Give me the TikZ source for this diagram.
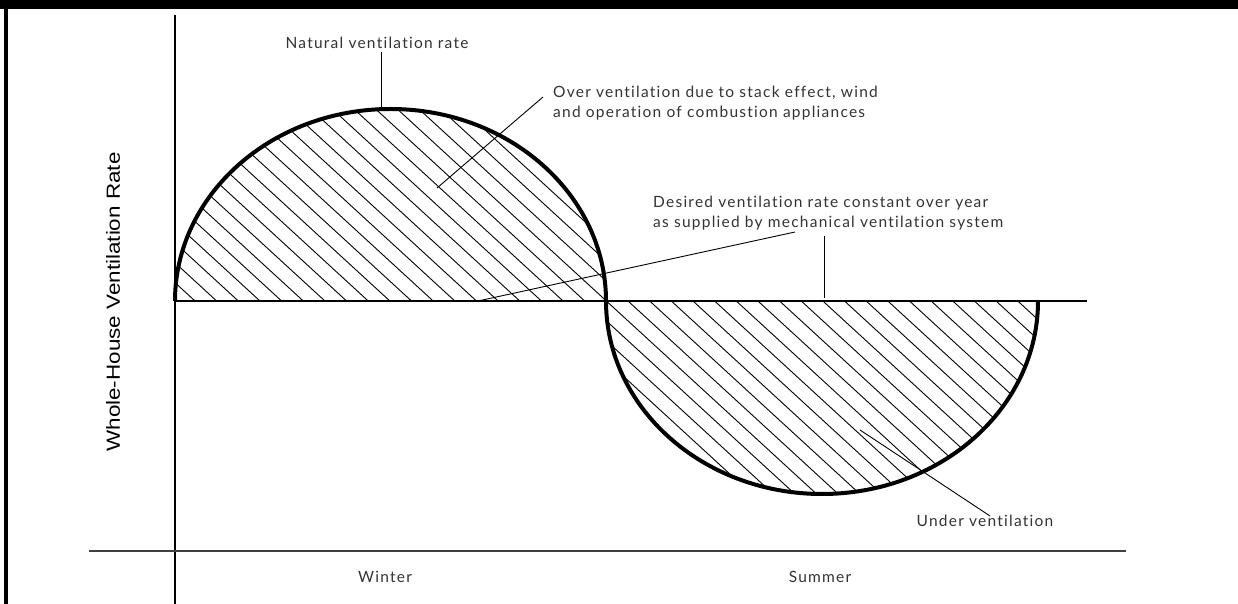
\documentclass[tikz,border=0pt]{standalone}
\usepackage{fontspec}
\setmainfont{Lato}[Ligatures=NoCommon, LetterSpace=8]
\newfontfamily\axisfont{Liberation Sans}
\tikzset{every node/.style={align=left, inner sep=0pt},
  lbl/.style={font=\fontsize{15.5}{20}\selectfont, text=black!80},
  season/.style={font=\fontsize{15.5}{18}\selectfont, text=black!80},
  rate/.style={line width=4pt},
  hatch/.style={line width=0.9pt},
  leader/.style={line width=0.9pt}}

\begin{document}
\begin{tikzpicture}[x=1pt, y=1pt]
            \useasboundingbox (0,0) rectangle (1238,604);
            % frame
            \fill (0,595) rectangle (1238,604);
            \fill (4,0) rectangle (7.5,604);
            % axes
            \draw [line width=1.4pt] (175,0) -- (175,589);
            \draw [line width=1.6pt, black!75] (89,53) -- (1126,53);
            % hatching of over and under ventilation
            \begin{scope}
                \clip (175,303) arc[start angle=180, end angle=0, x radius=215.5, y radius=192]
                    arc[start angle=180, end angle=360, x radius=216, y radius=193] -- cycle;
                \foreach \k in {-12,...,42}
                    \draw [hatch] ({195+21.65*\k-220},{303+202}) -- ({195+21.65*\k+220},{303-202});
            \end{scope}
            % desired rate and natural rate
            \draw [line width=2pt] (175,303) -- (1087,303);
            \draw [rate] (175,303) arc[start angle=180, end angle=0, x radius=215.5, y radius=192]
                arc[start angle=180, end angle=360, x radius=216, y radius=193];
            % labels
            \node [lbl] (natural) at (377,561) {Natural ventilation rate};
            \node [lbl, anchor=west] (over) at (553,501) {Over ventilation due to stack effect, wind\\and operation of combustion appliances};
            \node [lbl, anchor=west] (desired) at (653,391) {Desired ventilation rate constant over year\\as supplied by mechanical ventilation system};
            \node [lbl] (under) at (985,83) {Under ventilation};
            \node [season] (winter) at (385,27) {Winter};
            \node [season] (summer) at (820,27) {Summer};
            \node [font=\axisfont\fontsize{19}{22}\selectfont, rotate=90] (yaxis) at (113,302) {\scalebox{1.18}[1]{Whole-House Ventilation Rate}};
            % leaders
            \coordinate (peak) at (381,494);
            \coordinate (overstart) at (543,507);
            \coordinate (overend) at (437,416);
            \coordinate (desiredstart) at (795,372);
            \coordinate (desiredend) at (478,303);
            \coordinate (basestart) at (824,368);
            \coordinate (baseend) at (824,306);
            \coordinate (understart) at (990,88);
            \coordinate (underend) at (860,174);
            \draw [leader] (381,552) -- (peak);
            \draw [leader] (overstart) -- (overend);
            \draw [leader] (desiredstart) -- (desiredend);
            \draw [leader] (basestart) -- (baseend);
            \draw [leader] (understart) -- (underend);
        \end{tikzpicture}
\end{document}
